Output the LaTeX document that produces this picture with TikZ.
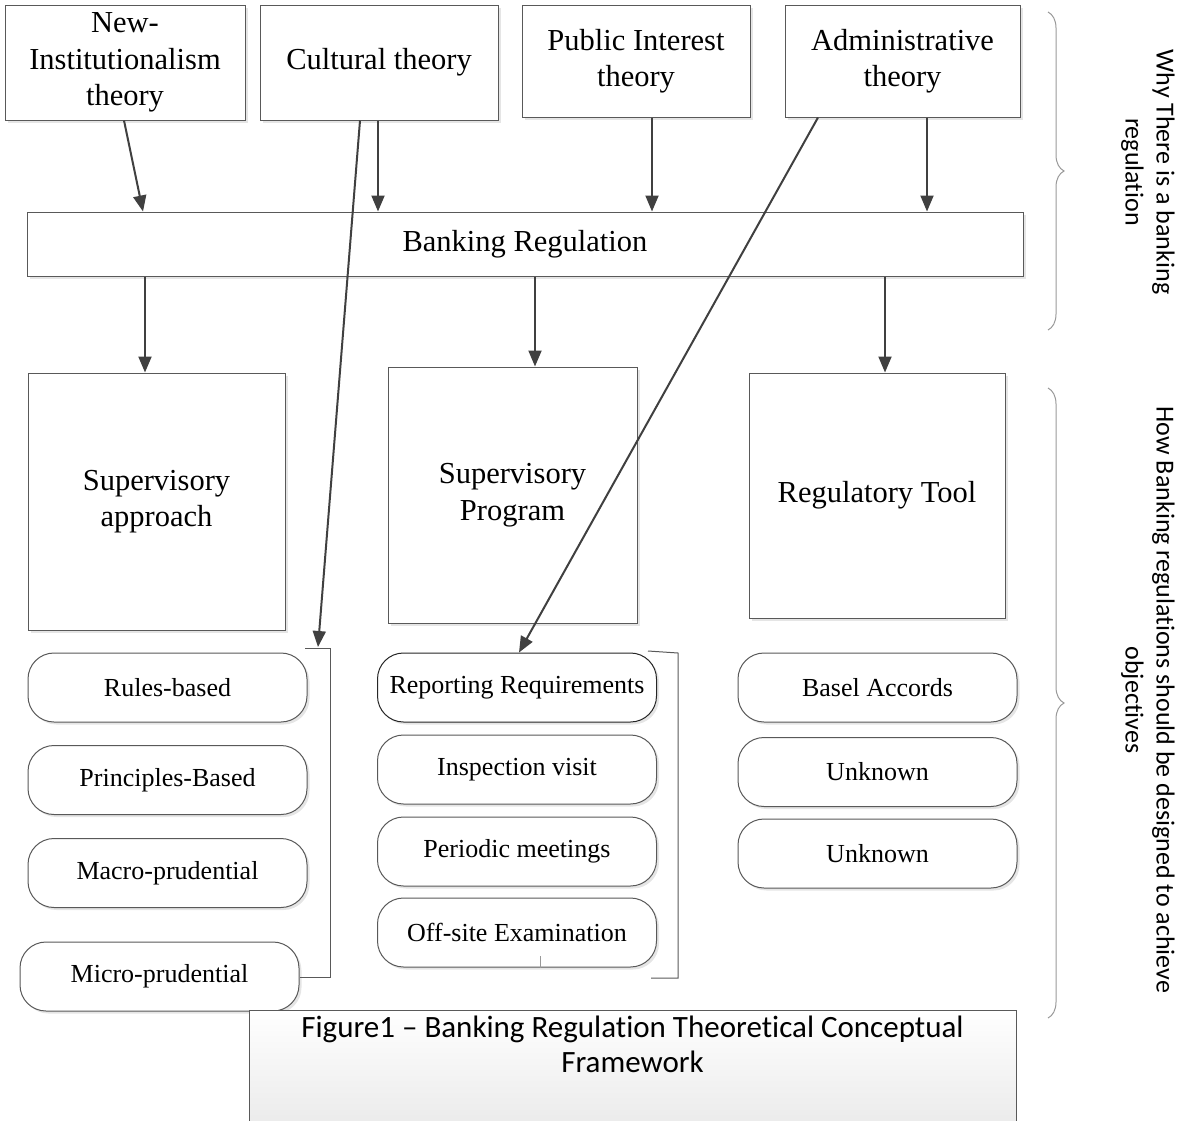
\documentclass[tikz,border=0pt]{standalone}
\usepackage{fontspec}
\setmainfont{Liberation Serif}
\newfontfamily\calib[Ligatures={NoCommon}]{Carlito}
\usetikzlibrary{arrows.meta,calc,shadows,decorations.pathreplacing}

\begin{document}
\begin{tikzpicture}[x=1pt,y=-1pt,
  box/.style={draw=black!65, line width=1pt, fill=white, inner sep=0pt, align=center,
    font=\fontsize{30.5}{36.5}\selectfont,
    drop shadow={shadow xshift=2.5pt,shadow yshift=-2.5pt,fill=black!10,opacity=1}},
  pill/.style={box, rounded corners=26pt, minimum width=279pt, minimum height=69pt,
    font=\fontsize{26}{30}\selectfont},
  arr/.style={draw=black!75, line width=2pt, -{Triangle[length=16pt,width=13pt]}},
  brk/.style={draw=black!65, line width=1pt},
  brc/.style={draw=black!40, line width=1pt, decorate, decoration={brace, amplitude=16pt}},
  side/.style={font=\calib\fontsize{26}{31}\selectfont, rotate=-90, align=center},
]
\useasboundingbox (0,0) rectangle (1182,1120);

% top theories
\node[box, minimum width=240, minimum height=115] (ni) at (125,62.5) {New-\\Institutionalism\\theory};
\node[box, minimum width=238, minimum height=115] (ct) at (379,62.5) {Cultural theory};
\node[box, minimum width=228, minimum height=112] (pi) at (636,61) {Public Interest\\theory};
\node[box, minimum width=235, minimum height=112] (ad) at (902.5,61) {Administrative\\theory};

% banking regulation
\node[box, minimum width=996, minimum height=64] (bank) at (525,244) {Banking Regulation};

% middle boxes
\node[box, minimum width=257, minimum height=257] (sa) at (156.5,501.5) {Supervisory\\approach};
\node[box, minimum width=249, minimum height=256] (sp) at (512.5,495) {Supervisory\\Program};
\node[box, minimum width=256, minimum height=245] (rt) at (877,495.5) {Regulatory Tool};

% pills
\node[pill] (rb) at (167.5,687.5) {Rules-based};
\node[pill] (pb) at (167.5,780) {Principles-Based};
\node[pill] (mp) at (167.5,873) {Macro-prudential};
\node[pill] (mi) at (159.5,976.5) {Micro-prudential};

\node[pill, draw=black!85] (rr) at (517,687.5) {Reporting Requirements};
\node[pill] (iv) at (517,769.5) {Inspection visit};
\node[pill] (pm) at (517,851.5) {Periodic meetings};
\node[pill] (os) at (517,932.5) {Off-site Examination};

\node[pill] (ba) at (877.5,687.5) {Basel Accords};
\node[pill] (u1) at (877.5,772) {Unknown};
\node[pill] (u2) at (877.5,853.5) {Unknown};

\draw[draw=black!40, line width=1pt] ([xshift=23pt]os.south) -- ++(0,-12);

% brackets
\coordinate (lb1) at (305,648);
\coordinate (lb2) at (330,648);
\coordinate (lb3) at (330,977);
\coordinate (lb4) at (300,977);
\coordinate (lbA) at (318,647);
\draw[brk] (lb1) -- (lb2) -- (lb3) -- (lb4);
\coordinate (mb1) at (648,651);
\coordinate (mb2) at (678,653);
\coordinate (mb3) at (678,978);
\coordinate (mb4) at (651,978);
\draw[brk] (mb1) -- (mb2) -- (mb3) -- (mb4);

% arrows theories -> banking
\coordinate (niA) at ([xshift=-1pt]ni.south);
\coordinate (niB) at ([xshift=18pt]ni.south |- bank.north);
\draw[arr] (niA) -- (niB);
\coordinate (ctA) at ([xshift=-1pt]ct.south);
\draw[arr] (ctA) -- (ctA |- bank.north);
\coordinate (piA) at ([xshift=16pt]pi.south);
\draw[arr] (piA) -- (piA |- bank.north);
\coordinate (adA) at ([xshift=24.5pt]ad.south);
\draw[arr] (adA) -- (adA |- bank.north);

% arrows banking -> boxes
\coordinate (saA) at ([xshift=-11.5pt]sa.north);
\draw[arr] (saA |- bank.south) -- (saA);
\coordinate (spA) at ([xshift=22.5pt]sp.north);
\draw[arr] (spA |- bank.south) -- (spA);
\coordinate (rtA) at ([xshift=8pt]rt.north);
\draw[arr] (rtA |- bank.south) -- (rtA);

% long arrows
\coordinate (ctB) at ([xshift=-19pt]ct.south);
\draw[arr] (ctB) -- (lbA);
\coordinate (adB) at ([xshift=-84.5pt]ad.south);
\draw[arr] (adB) -- ([xshift=2pt]rr.north);

% braces and side labels
\draw[brc] (1048,12) -- (1048,330);
\draw[brc] (1048,388) -- (1048,1018);
\node[side] (why) at (1148,172) {Why There is a banking\\regulation};
\node[side] (how) at (1148,700) {How Banking regulations should be designed to achieve\\objectives};

% caption
\node[draw=black!65, line width=1pt, top color=white, bottom color=black!8,
  minimum width=767, minimum height=115, anchor=north west, inner sep=0pt] (cap) at (249,1010) {};
\node[font=\calib\fontsize{31}{35}\selectfont, align=center] (capt) at (632.5,1044.5)
  {Figure1 – Banking Regulation Theoretical Conceptual\\Framework};
\end{tikzpicture}
\end{document}
